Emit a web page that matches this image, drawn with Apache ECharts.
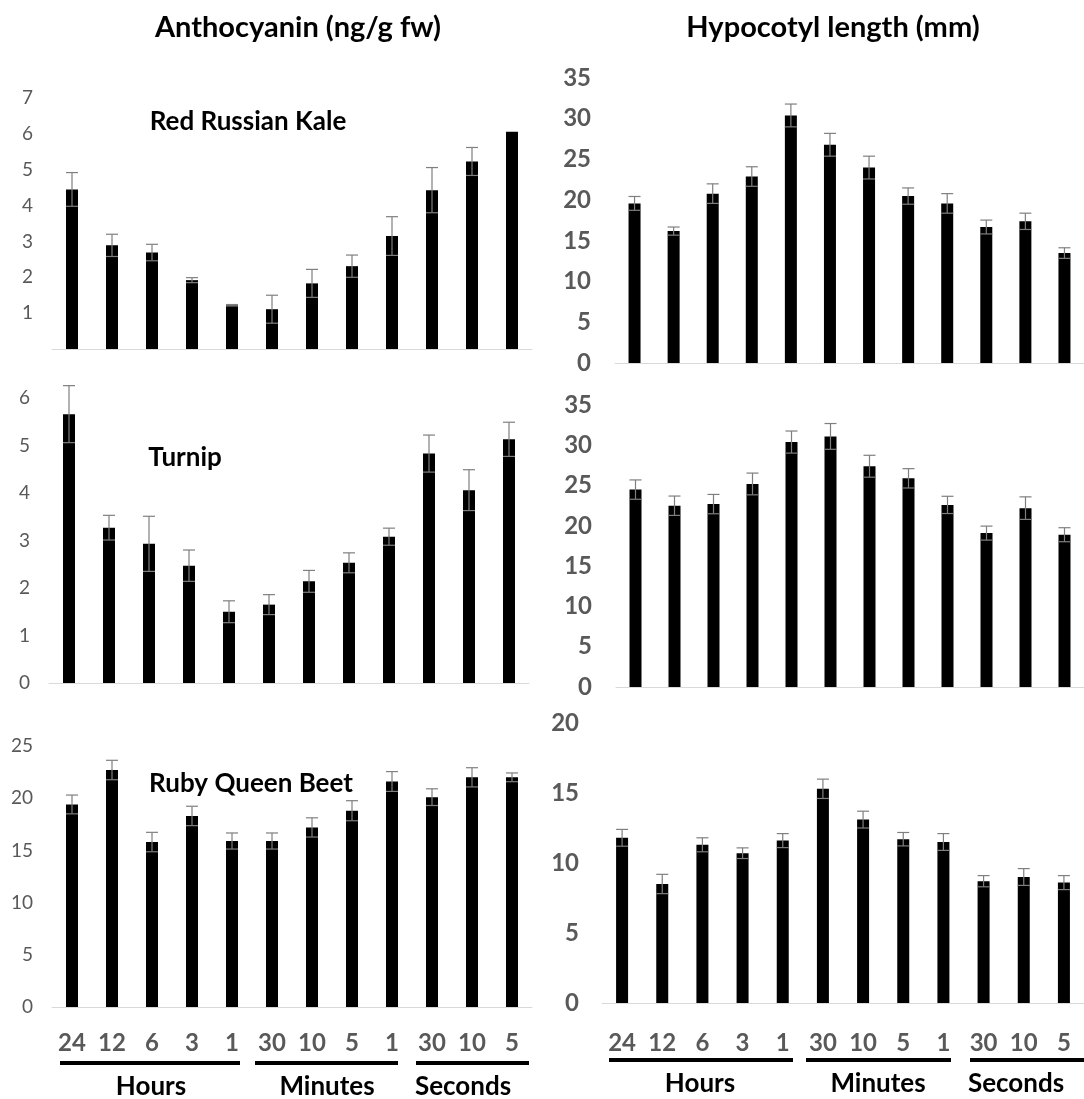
<!DOCTYPE html>
<html>
<head>
<meta charset="utf-8">
<script src="https://cdn.jsdelivr.net/npm/echarts@6/dist/echarts.min.js"></script>
<style>
html,body{margin:0;padding:0;background:#fff;}
#chart{width:1084px;height:1099px;}
</style>
</head>
<body>
<div id="chart"></div>
<script>
// ---------- data ----------
const categories = ['24','12','6','3','1','30','10','5','1','30','10','5'];

const kaleMean   = [4.45, 2.89, 2.69, 1.92, 1.22, 1.11, 1.83, 2.31, 3.15, 4.43, 5.23, 6.06];
const kaleErr    = [0.47, 0.31, 0.23, 0.07, 0.02, 0.39, 0.39, 0.31, 0.54, 0.63, 0.39, 0];

const turnipMean = [5.66, 3.27, 2.93, 2.47, 1.50, 1.65, 2.14, 2.53, 3.08, 4.83, 4.06, 5.13];
const turnipErr  = [0.60, 0.26, 0.58, 0.33, 0.23, 0.21, 0.23, 0.21, 0.18, 0.39, 0.43, 0.36];

const beetMean   = [19.4, 22.7, 15.8, 18.3, 15.9, 15.9, 17.2, 18.8, 21.6, 20.1, 22.0, 22.0];
const beetErr    = [0.90, 0.93, 0.93, 0.93, 0.77, 0.77, 0.92, 0.96, 0.95, 0.80, 0.92, 0.42];

const hypoKaleMean   = [19.6, 16.2, 20.8, 22.9, 30.4, 26.8, 24.0, 20.5, 19.6, 16.7, 17.4, 13.5];
const hypoKaleErr    = [0.85, 0.50, 1.20, 1.20, 1.40, 1.40, 1.40, 1.00, 1.20, 0.85, 1.00, 0.65];

const hypoTurnipMean = [24.5, 22.5, 22.7, 25.2, 30.4, 31.1, 27.4, 25.9, 22.6, 19.1, 22.2, 18.9];
const hypoTurnipErr  = [1.20, 1.20, 1.20, 1.35, 1.37, 1.60, 1.36, 1.20, 1.07, 0.87, 1.40, 0.87];

const hypoBeetMean   = [11.8, 8.5, 11.3, 10.7, 11.6, 15.3, 13.1, 11.7, 11.5, 8.7, 9.0, 8.6];
const hypoBeetErr    = [0.60, 0.69, 0.50, 0.38, 0.50, 0.69, 0.60, 0.48, 0.60, 0.40, 0.60, 0.50];

const leftYTicks  = [{max:7, interval:1, hideZero:true}, {max:6, interval:1, hideZero:false}, {max:25, interval:5, hideZero:false}];
const rightYTicks = [{max:35, interval:5}, {max:35, interval:5}, {max:20, interval:5}];

const columnTitles = ['Anthocyanin (ng/g fw)', 'Hypocotyl length (mm)'];
const cropNames = ['Red Russian Kale', 'Turnip', 'Ruby Queen Beet'];
const groupNames = ['Hours', 'Minutes', 'Seconds'];

// ---------- layout ----------
const FONT = "Lato, 'Open Sans', sans-serif";
const panels = [
  // left column
  {left:52,  top:98,  width:480, height:251, mean:kaleMean,       err:kaleErr,       y:leftYTicks[0],  side:'L', xlab:false},
  {left:49,  top:398, width:480, height:285, mean:turnipMean,     err:turnipErr,     y:leftYTicks[1],  side:'L', xlab:false},
  {left:52,  top:746, width:480, height:261, mean:beetMean,       err:beetErr,       y:leftYTicks[2],  side:'L', xlab:true},
  // right column
  {left:615, top:78,  width:475, height:285, mean:hypoKaleMean,   err:hypoKaleErr,   y:rightYTicks[0], side:'R', xlab:false},
  {left:616, top:405, width:476, height:282, mean:hypoTurnipMean, err:hypoTurnipErr, y:rightYTicks[1], side:'R', xlab:false},
  {left:602, top:723, width:482, height:280, mean:hypoBeetMean,   err:hypoBeetErr,   y:rightYTicks[2], side:'R', xlab:true}
];

const grid = [], xAxis = [], yAxis = [], series = [];

function errRender(params, api) {
  const x = api.value(0), m = api.value(1), e = api.value(2);
  if (!e) return null;
  const t = api.coord([x, m + e]);
  const b = api.coord([x, m - e]);
  const hw = 6;
  const st = {stroke:'#7f7f7f', lineWidth:1.2};
  return {type:'group', children:[
    {type:'line', shape:{x1:t[0], y1:t[1], x2:b[0], y2:b[1]}, style:st},
    {type:'line', shape:{x1:t[0]-hw, y1:t[1], x2:t[0]+hw, y2:t[1]}, style:st},
    {type:'line', shape:{x1:b[0]-hw, y1:b[1], x2:b[0]+hw, y2:b[1]}, style:st}
  ]};
}

panels.forEach((p, i) => {
  grid.push({left:p.left, top:p.top, width:p.width, height:p.height, containLabel:false});
  xAxis.push({
    type:'category', gridIndex:i, data:categories,
    axisLine:{show:true, lineStyle:{color:'#d9d9d9', width:1}},
    axisTick:{show:false},
    axisLabel:{show:p.xlab, interval:0, color:'#595959', fontFamily:FONT, fontWeight:'bold', fontSize:24, margin: p.side==='L' ? 24 : 28}
  });
  yAxis.push({
    type:'value', gridIndex:i, min:0, max:p.y.max, interval:p.y.interval,
    axisLine:{show:false}, axisTick:{show:false}, splitLine:{show:false},
    axisLabel: p.side==='L'
      ? {color:'#595959', fontFamily:FONT, fontSize:19, margin:19, showMinLabel: !p.y.hideZero}
      : {color:'#595959', fontFamily:FONT, fontWeight:'bold', fontSize:24, margin: i===5 ? 23 : 24}
  });
  series.push({
    type:'bar', xAxisIndex:i, yAxisIndex:i, data:p.mean, barWidth:12,
    itemStyle:{color:'#000'}, silent:true
  });
  series.push({
    type:'custom', xAxisIndex:i, yAxisIndex:i, clip:false, z:5, silent:true,
    renderItem:errRender, encode:{x:0, y:1},
    data:p.mean.map((m, k) => [k, m, p.err[k]])
  });
});

// ---------- annotations ----------
const graphic = [];
[[298, columnTitles[0]], [833, columnTitles[1]]].forEach(([cx, t]) => {
  graphic.push({type:'text', x:cx, y:28, style:{text:t, font:'bold 29px ' + FONT, fill:'#000', align:'center', verticalAlign:'middle'}});
});
[[248, 122, cropNames[0]], [185, 458, cropNames[1]], [251, 784, cropNames[2]]].forEach(([cx, cy, t]) => {
  graphic.push({type:'text', x:cx, y:cy, style:{text:t, font:'bold 26px ' + FONT, fill:'#000', align:'center', verticalAlign:'middle'}});
});
const groupLines = [
  {y:1063, ty:1087, segs:[[60,240],[255,398],[416,529]], labels:[151,327,463]},
  {y:1060, ty:1084, segs:[[609,793],[806,951],[970,1084]], labels:[700,878,1016]}
];
groupLines.forEach(g => {
  g.segs.forEach((s, k) => {
    graphic.push({type:'line', shape:{x1:s[0], y1:g.y, x2:s[1], y2:g.y}, style:{stroke:'#000', lineWidth:4}});
    graphic.push({type:'text', x:g.labels[k], y:g.ty, style:{text:groupNames[k], font:'bold 26px ' + FONT, fill:'#000', align:'center', verticalAlign:'middle'}});
  });
});

const chart = echarts.init(document.getElementById('chart'), null, {renderer:'canvas'});
chart.setOption({
  animation:false,
  backgroundColor:'#fff',
  grid, xAxis, yAxis, series, graphic
});
</script>
</body>
</html>
